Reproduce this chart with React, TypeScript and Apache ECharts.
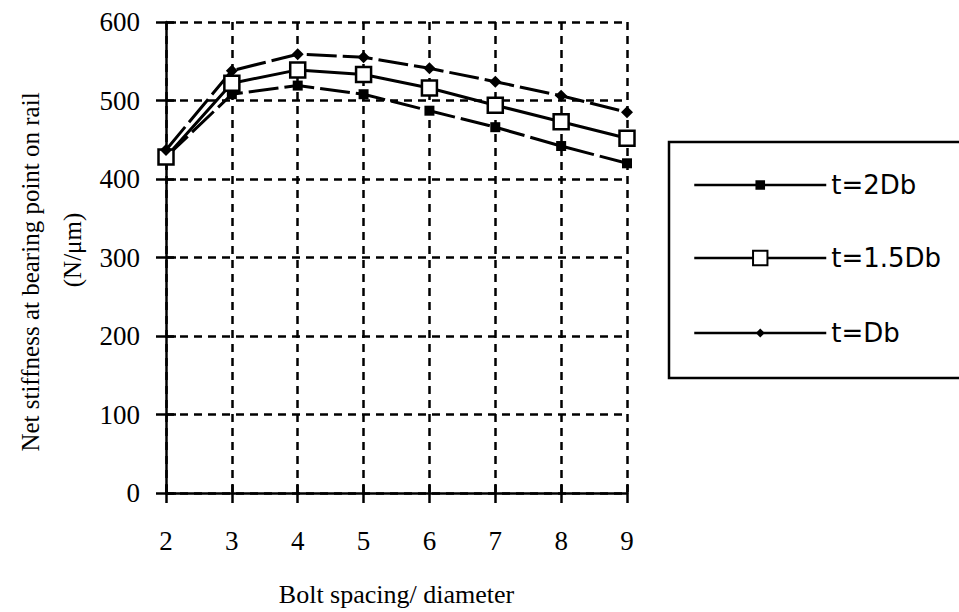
import React, { useEffect, useRef } from "react";
import * as echarts from "echarts";

const xValues = [2, 3, 4, 5, 6, 7, 8, 9];
const t2Db = [428, 508, 519, 508, 487, 466, 442, 420];
const t15Db = [428, 522, 539, 533, 516, 494, 473, 452];
const tDb = [437, 538, 559, 555, 541, 524, 506, 485];
const seriesNames = ["t=2Db", "t=1.5Db", "t=Db"];
const xAxisTitle = "Bolt spacing/ diameter";
const yAxisTitleLine1 = "Net stiffness at bearing point on rail";
const yAxisTitleLine2 = "(N/μm)";

const SERIF = "'Liberation Serif', 'Times New Roman', serif";
const SANS = "'DejaVu Sans', sans-serif";

export default function App() {
  const ref = useRef<HTMLDivElement>(null);
  useEffect(() => {
    if (!ref.current) return;
    const chart = echarts.init(ref.current, null, { renderer: "svg" });
    const black = "#000";
    const gridDash = { color: black, width: 2.5, type: [8, 6] };
    const pairs = (vals: number[]) => xValues.map((x, i) => [x, vals[i]]);
    const legendBase = (name: string, top: number, itemHeight: number) => ({
      orient: "vertical",
      left: 693,
      top,
      padding: 0,
      itemWidth: 132,
      itemHeight,
      itemGap: 0,
      z: 10,
      data: [name],
      selectedMode: false,
      lineStyle: { type: "solid", width: 2.5 },
      textStyle: { fontFamily: SANS, fontSize: 26, color: black, lineHeight: 20, padding: [0, 0, 0, 0] },
    });
    const option: any = {
      animation: false,
      backgroundColor: "#fff",
      grid: { left: 166, right: 332, top: 22, bottom: 118 },
      xAxis: [
        {
          type: "value",
          min: 2,
          max: 9,
          interval: 1,
          position: "bottom",
          axisLine: { show: true, onZero: false, lineStyle: { color: black, width: 2.5 } },
          axisTick: { show: true, inside: false, length: 10, lineStyle: { color: black, width: 2.5 } },
          axisLabel: { margin: 34, color: black, fontFamily: SERIF, fontSize: 27 },
          splitLine: { show: true, lineStyle: gridDash },
          name: xAxisTitle,
          nameLocation: "middle",
          nameGap: 88,
          nameTextStyle: { color: black, fontFamily: SERIF, fontSize: 26 },
        },
        {
          type: "value",
          min: 2,
          max: 9,
          interval: 1,
          position: "bottom",
          axisLine: { show: false, onZero: false },
          axisTick: { show: true, inside: true, length: 8, lineStyle: { color: black, width: 2.5 } },
          axisLabel: { show: false },
          splitLine: { show: false },
        },
      ],
      yAxis: [
        {
          type: "value",
          min: 0,
          max: 600,
          interval: 100,
          position: "left",
          axisLine: { show: true, onZero: false, lineStyle: { color: black, width: 2.5 } },
          axisTick: { show: true, inside: false, length: 10, lineStyle: { color: black, width: 2.5 } },
          axisLabel: { margin: 26, color: black, fontFamily: SERIF, fontSize: 27 },
          splitLine: { show: true, lineStyle: gridDash },
        },
        {
          type: "value",
          min: 0,
          max: 600,
          interval: 100,
          position: "left",
          axisLine: { show: false, onZero: false },
          axisTick: { show: true, inside: true, length: 10, lineStyle: { color: black, width: 2.5 } },
          axisLabel: { show: false },
          splitLine: { show: false },
        },
      ],
      legend: [
        legendBase(seriesNames[0], 172, 12),
        legendBase(seriesNames[1], 245, 18),
        legendBase(seriesNames[2], 320, 11),
      ],
      graphic: [
        {
          type: "rect",
          z: 1,
          shape: { x: 669, y: 142, width: 320, height: 236 },
          style: { fill: "#fff", stroke: black, lineWidth: 2.5 },
        },
        {
          type: "text",
          x: 30,
          y: 272,
          rotation: Math.PI / 2,
          style: {
            text: yAxisTitleLine1,
            fill: black,
            font: `25px ${SERIF}`,
            textAlign: "center",
            textVerticalAlign: "middle",
          },
        },
        {
          type: "text",
          x: 72,
          y: 250,
          rotation: Math.PI / 2,
          style: {
            text: yAxisTitleLine2,
            fill: black,
            font: `25px ${SERIF}`,
            textAlign: "center",
            textVerticalAlign: "middle",
          },
        },
      ],
      series: [
        {
          name: seriesNames[0],
          type: "line",
          data: pairs(t2Db),
          symbol: "rect",
          symbolSize: 10,
          itemStyle: { color: black },
          lineStyle: { color: black, width: 3, type: [30, 6] },
          emphasis: { disabled: true },
          z: 3,
        },
        {
          name: seriesNames[1],
          type: "line",
          data: pairs(t15Db),
          symbol: "rect",
          symbolSize: 15,
          itemStyle: { color: "#fff", borderColor: black, borderWidth: 2.5 },
          lineStyle: { color: black, width: 3, type: "solid" },
          emphasis: { disabled: true },
          z: 3,
        },
        {
          name: seriesNames[2],
          type: "line",
          data: pairs(tDb),
          symbol: "diamond",
          symbolSize: 12,
          itemStyle: { color: black },
          lineStyle: { color: black, width: 3, type: [30, 6] },
          emphasis: { disabled: true },
          z: 3,
        },
      ],
    };
    chart.setOption(option);
    return () => chart.dispose();
  }, []);
  return (
    <div
      ref={ref}
      style={{ position: "absolute", left: 0, top: 0, width: 959, height: 612 }}
    />
  );
}
